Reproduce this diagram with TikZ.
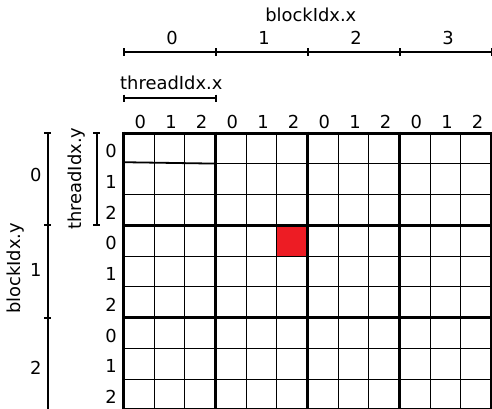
\documentclass[tikz,border=0pt]{standalone}
\usepackage{fontspec}
\setmainfont{DejaVu Sans}
\definecolor{cellred}{HTML}{ED1C24}
\begin{document}
\begin{tikzpicture}[x=1pt,y=-1pt,
  gridthin/.style={line width=1pt,black},
  gridthick/.style={line width=3pt,black},
  ruler/.style={line width=2pt,black},
  lbl/.style={font=\fontsize{17.9}{20}\selectfont,inner sep=0pt}]
\useasboundingbox (0,0) rectangle (492,408);
\clip (0,0) rectangle (492,408);
% highlighted cell
\fill[cellred] (276.8,225.3) rectangle (307.5,256.1);
% thin grid lines
\foreach \i in {1,2,4,5,7,8,10,11}{
  \draw[gridthin] ({123.5+\i*30.667},133) -- ({123.5+\i*30.667},420);
}
\foreach \j in {2,4,5,7,8}{
  \draw[gridthin] (123.5,{133+\j*30.767}) -- (500,{133+\j*30.767});
}
\draw[gridthin] (215.5,163.8) -- (500,163.8);
\draw[line width=1.8pt] (123.5,162.2) -- (215.5,163.6);
% thick grid lines
\foreach \i in {0,3,6,9,12}{
  \draw[gridthick] ({123.5+\i*30.667},131.5) -- ({123.5+\i*30.667},420);
}
\foreach \j in {0,3,6,9}{
  \draw[gridthick] (122,{133+\j*30.767}) -- (500,{133+\j*30.767});
}
% top labels
\node[lbl,anchor=base] (bx) at (310.8,21.7) {blockIdx.x};
\foreach \k in {0,...,3}{
  \node[lbl] (bx\k) at ({172+\k*92},38) {\k};
}
\draw[ruler] (123.5,51.7) -- (491.5,51.7);
\foreach \k in {0,...,4}{
  \draw[ruler] ({123.5+\k*92},48) -- ({123.5+\k*92},55.5);
}
\node[lbl,anchor=base] (tx) at (171.3,89.3) {threadIdx.x};
\draw[ruler] (123.5,98.3) -- (215.5,98.3);
\draw[ruler] (123.5,94.6) -- (123.5,102);
\draw[ruler] (215.5,94.6) -- (215.5,102);
\foreach \k [evaluate=\k as \m using {int(mod(\k,3))}] in {0,...,11}{
  \node[lbl] (tx\k) at ({140.3+\k*30.667},121.5) {\m};
}
% left labels
\node[lbl,rotate=90] (by) at (15.8,268.3) {blockIdx.y};
\node[lbl] (by0) at (35.8,175) {0};
\node[lbl] (by1) at (35.8,269.5) {1};
\node[lbl] (by2) at (35.8,367.5) {2};
\draw[ruler] (47.7,133) -- (47.7,415);
\foreach \k in {0,...,3}{
  \draw[ruler] (44,{133+\k*92.3}) -- (51.4,{133+\k*92.3});
}
\node[lbl,rotate=90] (ty) at (76.7,178.7) {threadIdx.y};
\draw[ruler] (96.7,133) -- (96.7,225.3);
\draw[ruler] (93,133) -- (100.4,133);
\draw[ruler] (93,225.3) -- (100.4,225.3);
\foreach \k [evaluate=\k as \m using {int(mod(\k,3))}] in {0,...,8}{
  \node[lbl] (ty\k) at (111,{151+\k*30.767}) {\m};
}
\end{tikzpicture}
\end{document}
